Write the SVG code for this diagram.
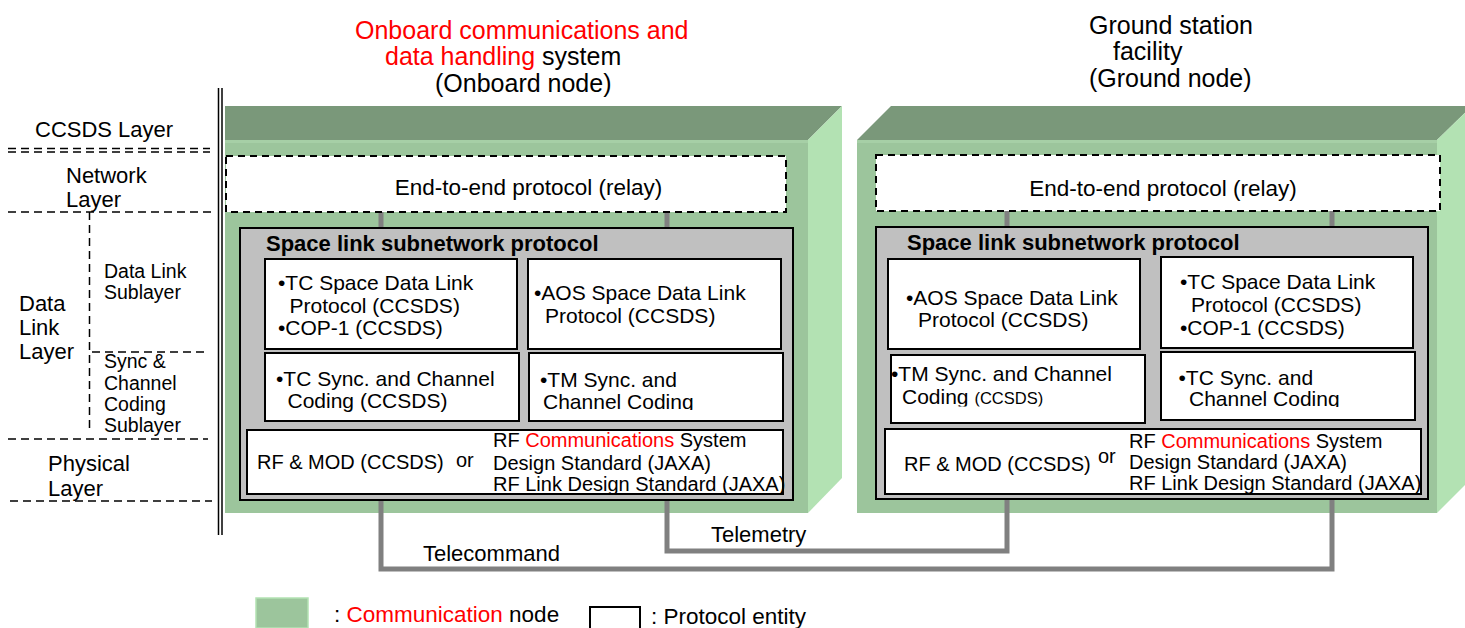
<svg xmlns="http://www.w3.org/2000/svg" width="1465" height="628" viewBox="0 0 1465 628">
<style>
text{font-family:"Liberation Sans",Arial,sans-serif;fill:#000}
.t{font-size:25px}
.lab{font-size:22px}
.sub{font-size:19.5px}
.e2e{font-size:22.5px}
.bold{font-size:22px;font-weight:bold}
.b{font-size:21px}
.rf{font-size:20px}
.red{fill:#ff0000}
.dl{stroke:#000;stroke-width:1.5;stroke-dasharray:8 5;fill:none}
.top{fill:#7a987a}
.front{fill:#9cc59c}
.side{fill:#b3e2b3}
.e2ebox{fill:#fff;stroke:#000;stroke-width:2;stroke-dasharray:7 5}
.gray{fill:#c0c0c0;stroke:#000;stroke-width:2}
.box{fill:#fff;stroke:#000;stroke-width:2}
.conn{fill:none;stroke:#808080;stroke-width:5}
</style>
<defs>
<clipPath id="clipD"><rect x="529" y="353" width="254" height="57"/></clipPath>
<clipPath id="clipC2"><rect x="880" y="355" width="265" height="51.5"/></clipPath>
<clipPath id="clipD2"><rect x="1161" y="352" width="254" height="55"/></clipPath>
</defs>

<g id="layer-labels">
<line x1="218.5" y1="88" x2="218.5" y2="535" stroke="#000" stroke-width="1.5"/>
<line x1="222" y1="88" x2="222" y2="535" stroke="#000" stroke-width="1.5"/>
<text class="lab" x="35" y="137">CCSDS Layer</text>
<line class="dl" x1="8" y1="148.5" x2="210" y2="148.5"/>
<line class="dl" x1="8" y1="152" x2="210" y2="152"/>
<text class="lab" x="66" y="183">Network</text>
<text class="lab" x="66" y="207">Layer</text>
<line class="dl" x1="8" y1="212" x2="212" y2="212"/>
<line class="dl" x1="89.5" y1="212" x2="89.5" y2="428"/>
<text class="sub" x="104" y="278">Data Link</text>
<text class="sub" x="104" y="299">Sublayer</text>
<line class="dl" x1="92" y1="352" x2="208" y2="352"/>
<text class="lab" x="19" y="311">Data</text>
<text class="lab" x="19" y="335">Link</text>
<text class="lab" x="19" y="359">Layer</text>
<text class="sub" x="104" y="368">Sync &amp;</text>
<text class="sub" x="104" y="389.5">Channel</text>
<text class="sub" x="104" y="411">Coding</text>
<text class="sub" x="104" y="432">Sublayer</text>
<line class="dl" x1="8" y1="439" x2="208" y2="439"/>
<text class="lab" x="48" y="471">Physical</text>
<text class="lab" x="48" y="496">Layer</text>
<line class="dl" x1="10" y1="501" x2="212" y2="501"/>
</g>

<g id="onboard-title">
<text class="t red" x="355" y="38.5">Onboard communications and</text>
<text class="t" x="385" y="65"><tspan class="red">data handling</tspan> system</text>
<text class="t" x="435" y="92">(Onboard node)</text>
</g>
<g id="ground-title">
<text class="t" x="1089" y="34">Ground station</text>
<text class="t" x="1113" y="60">facility</text>
<text class="t" x="1089" y="87">(Ground node)</text>
</g>

<g id="onboard-node">
<polygon class="top" points="225,106 842,106 808,140 225,140"/>
<rect class="front" x="225" y="140" width="583" height="373"/>
<rect x="225" y="140" width="583" height="3" fill="#a6cfa6"/>
<polygon class="side" points="808,140 842,106 842,478 808,513"/>
</g>
<g id="ground-node">
<polygon class="top" points="857,140 891,106 1472,106 1437,140"/>
<rect class="front" x="857" y="140" width="580" height="373"/>
<rect x="857" y="140" width="580" height="3" fill="#a6cfa6"/>
<polygon class="side" points="1437,140 1472,106 1472,478 1437,513"/>
</g>

<g id="connectors">
<path id="telecommand" class="conn" d="M381,212 V569 H1332 V211"/>
<path id="telemetry" class="conn" d="M667,212 V551 H1007 V211"/>
<text class="lab" x="711" y="542">Telemetry</text>
<text class="lab" x="423" y="561">Telecommand</text>
</g>

<g id="onboard-protocols">
<g id="onboard-e2e">
<rect class="e2ebox" x="226" y="156" width="560" height="56"/>
<text class="e2e" x="528.5" y="195" text-anchor="middle">End-to-end protocol (relay)</text>
</g>
<g id="onboard-slsp">
<rect class="gray" x="240" y="228" width="553" height="272"/>
<text class="bold" x="266" y="251">Space link subnetwork protocol</text>
</g>
<g id="onboard-tc-sdlp">
<rect class="box" x="265" y="259" width="252" height="90"/>
<text class="b"><tspan x="278" y="289.5">•TC Space Data Link</tspan><tspan x="289.5" y="312.5">Protocol (CCSDS)</tspan><tspan x="278" y="335">•COP-1 (CCSDS)</tspan></text>
</g>
<g id="onboard-aos-sdlp">
<rect class="box" x="528" y="259" width="253" height="90"/>
<text class="b"><tspan x="534" y="300">•AOS Space Data Link</tspan><tspan x="545" y="323">Protocol (CCSDS)</tspan></text>
</g>
<g id="onboard-tc-sync">
<rect class="box" x="265" y="353" width="254" height="68"/>
<text class="b"><tspan x="276" y="386">•TC Sync. and Channel</tspan><tspan x="287.5" y="408">Coding (CCSDS)</tspan></text>
</g>
<g id="onboard-tm-sync">
<rect class="box" x="529" y="353" width="254" height="68"/>
<text class="b" clip-path="url(#clipD)"><tspan x="540" y="387">•TM Sync. and</tspan><tspan x="543" y="408.5">Channel Coding</tspan></text>
</g>
<g id="onboard-rf">
<rect class="box" x="247" y="430" width="536" height="64"/>
<text class="rf" x="257" y="469">RF &amp; MOD (CCSDS)</text>
<text class="rf" x="456" y="467">or</text>
<text class="rf"><tspan x="493" y="447">RF <tspan class="red">Communications</tspan> System</tspan><tspan x="493" y="469.5">Design Standard (JAXA)</tspan><tspan x="493" y="491">RF Link Design Standard (JAXA)</tspan></text>
</g>
</g>

<g id="ground-protocols">
<g id="ground-e2e">
<rect class="e2ebox" x="876" y="155" width="564" height="56"/>
<text class="e2e" x="1163" y="196" text-anchor="middle">End-to-end protocol (relay)</text>
</g>
<g id="ground-slsp">
<rect class="gray" x="876" y="227" width="552" height="272"/>
<text class="bold" x="907" y="250">Space link subnetwork protocol</text>
</g>
<g id="ground-aos-sdlp">
<rect class="box" x="888" y="259" width="252" height="90"/>
<text class="b"><tspan x="906" y="305">•AOS Space Data Link</tspan><tspan x="918" y="327">Protocol (CCSDS)</tspan></text>
</g>
<g id="ground-tc-sdlp">
<rect class="box" x="1161" y="257" width="252" height="91"/>
<text class="b"><tspan x="1180" y="289">•TC Space Data Link</tspan><tspan x="1191" y="312">Protocol (CCSDS)</tspan><tspan x="1180" y="335">•COP-1 (CCSDS)</tspan></text>
</g>
<g id="ground-tm-sync">
<rect class="box" x="891" y="355" width="254" height="68"/>
<text class="b" clip-path="url(#clipC2)"><tspan x="891" y="381">•TM Sync. and Channel</tspan><tspan x="902" y="403.5">Coding <tspan style="font-size:16.5px">(CCSDS)</tspan></tspan></text>
</g>
<g id="ground-tc-sync">
<rect class="box" x="1161" y="352" width="254" height="68"/>
<text class="b" clip-path="url(#clipD2)"><tspan x="1178.5" y="385">•TC Sync. and</tspan><tspan x="1189" y="406">Channel Coding</tspan></text>
</g>
<g id="ground-rf">
<rect class="box" x="885" y="429" width="536" height="65"/>
<text class="rf" x="904" y="471">RF &amp; MOD (CCSDS)</text>
<text class="rf" x="1098" y="463">or</text>
<text class="rf"><tspan x="1129" y="447.5">RF <tspan class="red">Communications</tspan> System</tspan><tspan x="1129" y="468.5">Design Standard (JAXA)</tspan><tspan x="1129" y="490">RF Link Design Standard (JAXA)</tspan></text>
</g>
</g>

<g id="legend">
<rect x="256" y="598" width="52" height="30" fill="#9cc59c" stroke="#b3e2b3" stroke-width="1.5"/>
<text class="e2e" x="334" y="622">: <tspan class="red">Communication</tspan> node</text>
<rect x="590" y="607" width="50" height="25" fill="#fff" stroke="#000" stroke-width="2"/>
<text class="e2e" x="651" y="624">: Protocol entity</text>
</g>
</svg>
